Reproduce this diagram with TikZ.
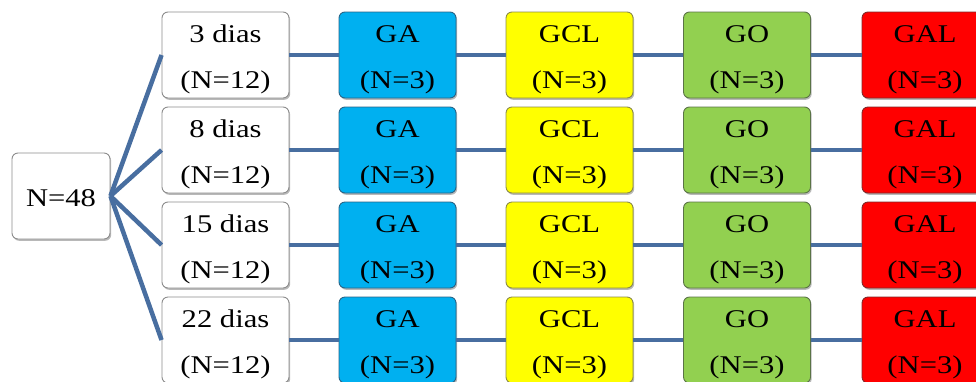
\documentclass[tikz,border=0pt]{standalone}
\usepackage{fontspec}
\setmainfont{Liberation Serif}[FakeStretch=1.2]
\usetikzlibrary{shadows}
\definecolor{linkc}{RGB}{72,110,160}
\definecolor{gaF}{RGB}{0,176,240}
\definecolor{gaD}{RGB}{40,100,135}
\definecolor{gclF}{RGB}{255,255,0}
\definecolor{gclD}{RGB}{140,140,70}
\definecolor{goF}{RGB}{146,208,80}
\definecolor{goD}{RGB}{90,115,70}
\definecolor{galF}{RGB}{255,0,0}
\definecolor{galD}{RGB}{130,40,40}
\definecolor{wD}{RGB}{140,140,140}
\tikzset{
  x=1pt, y=-1pt,
  txt/.style={font=\fontsize{25.5}{30}\selectfont, inner sep=0pt, text height=17pt, text depth=0pt},
  box/.style={rounded corners=6pt, line width=0.9pt, minimum width=#1, minimum height=86pt, inner sep=0pt,
    drop shadow={shadow xshift=1.2pt, shadow yshift=-1.8pt, opacity=0.28, fill=black}},
  two/.style 2 args={label={[txt, yshift=21.5pt]center:#1}, label={[txt, yshift=-24.5pt]center:#2}},
  dayb/.style={box=127pt, draw=wD, fill=white},
  gab/.style={box=117pt, draw=gaD, fill=gaF},
  gclb/.style={box=127pt, draw=gclD, fill=gclF},
  gob/.style={box=127pt, draw=goD, fill=goF},
  galb/.style={box=126pt, draw=galD, fill=galF},
  link/.style={draw=linkc, line width=4.5pt},
}
\begin{document}
\begin{tikzpicture}
\useasboundingbox (0,0) rectangle (976,381);
\clip (0,0) rectangle (976,381);
\node[box=98pt, minimum height=86pt, draw=wD, fill=white, label={[txt, yshift=-2.2pt]center:N=48}] (root) at (61,196) {};
\foreach \i/\cy/\d in {1/55/3, 2/150/8, 3/245/15, 4/340/22} {
  \node[dayb, two={\d{} dias}{(N=12)}] (d\i) at (225.5,\cy) {};
  \node[gab, two={GA}{(N=3)}] (ga\i) at (397.5,\cy) {};
  \node[gclb, two={GCL}{(N=3)}] (gcl\i) at (569.5,\cy) {};
  \node[gob, two={GO}{(N=3)}] (go\i) at (747,\cy) {};
  \node[galb, two={GAL}{(N=3)}] (gal\i) at (925,\cy) {};
  \draw[link] (root.east) -- (d\i.west);
  \draw[link] (d\i.east) -- (ga\i.west);
  \draw[link] (ga\i.east) -- (gcl\i.west);
  \draw[link] (gcl\i.east) -- (go\i.west);
  \draw[link] (go\i.east) -- (gal\i.west);
}
\end{tikzpicture}
\end{document}
